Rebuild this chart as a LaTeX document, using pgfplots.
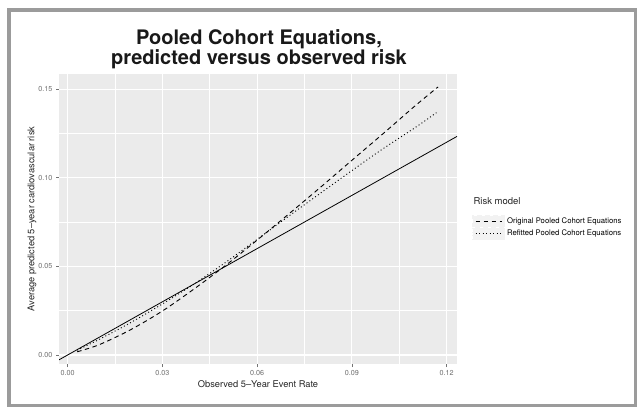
\documentclass[border=0pt]{standalone}
\usepackage{pgfplots}
\pgfplotsset{compat=1.18}
\usepackage{fontspec}
\setmainfont{TeX Gyre Heros}
\definecolor{panel}{HTML}{EBEBEB}
\definecolor{framecol}{HTML}{9B9B9B}
\definecolor{ticklab}{HTML}{6E6E6E}
\definecolor{keybg}{HTML}{F2F2F2}
\begin{document}
\begin{tikzpicture}[x=1pt,y=1pt]
\path[use as bounding box, fill=white] (0,0) rectangle (639,407);
\draw[framecol, line width=3.5pt] (9,1.5) rectangle (635.5,397);
\begin{axis}[at={(59pt,43pt)}, anchor=south west, scale only axis,
  width=398pt, height=290pt,
  xmin=-0.00275, xmax=0.1233, ymin=-0.0051, ymax=0.1585,
  axis background/.style={fill=panel}, axis line style={draw=none},
  xtick={0,0.03,0.06,0.09,0.12}, xticklabels={0.00,0.03,0.06,0.09,0.12},
  ytick={0,0.05,0.10,0.15}, yticklabels={0.00,0.05,0.10,0.15},
  minor xtick={0.015,0.045,0.075,0.105}, minor ytick={0.025,0.075,0.125},
  grid=both, major grid style={white, line width=1.1pt},
  minor grid style={white, line width=0.55pt},
  tick pos=left, tick align=outside, major tick length=3pt, minor tick length=0pt,
  tick style={color=black!55, line width=0.5pt},
  ticklabel style={font=\fontsize{7.2}{8}\selectfont, text=ticklab},
  scaled ticks=false,
  legend style={at={(1.0377,0.5138)}, anchor=north west, draw=none, fill=none,
    inner sep=0pt, row sep=0pt, font=\fontsize{7.7}{9}\selectfont,
    cells={anchor=west}, /tikz/every even column/.style={column sep=2pt}},
  legend image code/.code={\fill[keybg] (0pt,-5.75pt) rectangle (32pt,5.75pt);
    \draw[#1] (3pt,0pt) -- (29pt,0pt);},
]
\addplot[black, line width=0.8pt, forget plot] coordinates {(-0.00275,-0.00275) (0.1233,0.1233)};
\addplot[black, line width=0.9pt, dash pattern=on 4.5pt off 3.5pt, smooth] coordinates {
(0.003,0.0018) (0.010,0.0058) (0.020,0.0143) (0.030,0.0248) (0.040,0.0372) (0.050,0.0505)
(0.060,0.0648) (0.070,0.0795) (0.080,0.0945) (0.090,0.1098) (0.100,0.1250) (0.110,0.1405) (0.1173,0.1512)};
\addlegendentry{Original Pooled Cohort Equations}
\addplot[black, line width=0.9pt, dash pattern=on 1pt off 2.5pt, smooth] coordinates {
(0.003,0.0027) (0.010,0.0088) (0.020,0.0183) (0.030,0.0288) (0.040,0.0400) (0.050,0.0522)
(0.060,0.0652) (0.070,0.0783) (0.080,0.0912) (0.090,0.1040) (0.100,0.1165) (0.110,0.1282) (0.1168,0.1367)};
\addlegendentry{Refitted Pooled Cohort Equations}
\end{axis}
\node[anchor=base, font=\fontsize{20}{22}\bfseries\selectfont, text=black!90] at (259,362) {Pooled Cohort Equations,};
\node[anchor=base, font=\fontsize{20}{22}\bfseries\selectfont, text=black!90] at (259,342) {predicted versus observed risk};
\node[font=\fontsize{9.3}{11}\selectfont, text=black!85] at (258,23) {Observed 5\textendash Year Event Rate};
\node[rotate=90, font=\fontsize{9.3}{11}\selectfont, text=black!85] at (32,188) {Average predicted 5\textendash year cardiovascular risk};
\node[anchor=west, font=\fontsize{9.5}{11}\selectfont, text=black!85] at (470,206) {Risk model};
\end{tikzpicture}
\end{document}
